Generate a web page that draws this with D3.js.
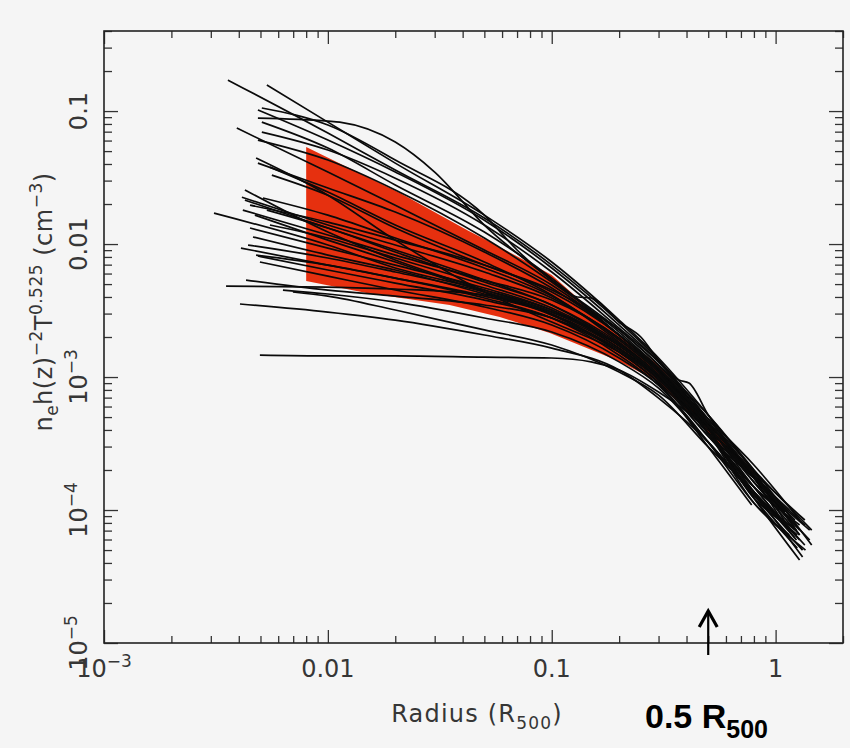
<!DOCTYPE html>
<html>
<head>
<meta charset="utf-8">
<script src="https://cdn.jsdelivr.net/npm/d3@7"></script>
<style>
  html, body { margin: 0; padding: 0; background: #f5f5f5; }
  svg { display: block; }
  .axis-text { font-family: "DejaVu Sans", "Liberation Sans", sans-serif; fill: #363636; }
</style>
</head>
<body>
<svg id="chart" width="850" height="748"></svg>
<script>
// Scaled gas density profiles n_e h(z)^-2 T^-0.525 versus radius in units of R500.
const radiusDomain = [0.001, 2];
const densityDomain = [1e-5, 0.4];

const xTickLabels = [[0.001, "10", "\u22123"], [0.01, "0.01", ""], [0.1, "0.1", ""], [1, "1", ""]];
const yTickLabels = [[1e-5, "10", "\u22125"], [1e-4, "10", "\u22124"], [1e-3, "10", "\u22123"], [0.01, "0.01", ""], [0.1, "0.1", ""]];

// Envelope of the reference model (shaded band)
const bandUpper = [[0.008, 0.0536], [0.021, 0.0242], [0.042, 0.0127], [0.0586, 0.0095], [0.1, 0.00585],
                   [0.2, 0.00207], [0.3, 0.00123], [0.5, 0.000459], [0.8, 0.000193]];
const bandLower = [[0.008, 0.00527], [0.0149, 0.00428], [0.035, 0.00348], [0.0586, 0.00283], [0.098, 0.00214],
                   [0.195, 0.00134], [0.29, 0.000949], [0.46, 0.000443], [0.8, 0.000174]];

// Individual cluster profiles: [radius (R500), scaled density (cm^-3)]
const profiles = [
  [[0.00358,0.171],[0.01,0.0683],[0.02,0.036],[0.05,0.0157],[0.1,0.00695],[0.2,0.00259],[0.3,0.00134],[0.5,0.000483],[0.8,0.000183],[1.15,0.0000841]],
  [[0.00534,0.157],[0.01,0.0826],[0.02,0.0406],[0.05,0.0165],[0.1,0.00733],[0.2,0.00268],[0.3,0.00139],[0.5,0.000518],[0.8,0.000193],[1.28,0.0000649]],
  [[0.00487,0.0885],[0.01,0.0841],[0.0113,0.0826],[0.02,0.0585],[0.03,0.0348],[0.05,0.0139],[0.1,0.00536],[0.2,0.00226],[0.3,0.00123],[0.5,0.000459],[0.8,0.000174],[1.10,0.0000771]],
  [[0.00487,0.1018],[0.01,0.0605],[0.02,0.0348],[0.05,0.0151],[0.1,0.00661],[0.2,0.00246],[0.3,0.0013],[0.5,0.000459],[0.8,0.000193],[1.35,0.0000841]],
  [[0.00507,0.1054],[0.01,0.0785],[0.02,0.0428],[0.05,0.0165],[0.07,0.00902],[0.1,0.00536],[0.13,0.0040],[0.15,0.00393],[0.2,0.00259],[0.25,0.0020],[0.3,0.00134],[0.37,0.000949],[0.41,0.000901],[0.5,0.000518],[0.8,0.000174],[1.42,0.0000595]],
  [[0.00392,0.0745],[0.01,0.0348],[0.02,0.0196],[0.05,0.00902],[0.1,0.00492],[0.2,0.00207],[0.3,0.00113],[0.5,0.000407],[0.8,0.000123],[1.28,0.0000421]],
  [[0.00507,0.0826],[0.01,0.0527],[0.02,0.0278],[0.05,0.0123],[0.1,0.00555],[0.2,0.00207],[0.3,0.00117],[0.5,0.000407],[0.8,0.000137],[1.22,0.0000707]],
  [[0.00487,0.0406],[0.01,0.0264],[0.02,0.0174],[0.05,0.00871],[0.1,0.00467],[0.2,0.00207],[0.3,0.00113],[0.5,0.000443],[0.8,0.000183],[1.35,0.0000771]],
  [[0.00551,0.0379],[0.01,0.0246],[0.02,0.0139],[0.05,0.00733],[0.1,0.00414],[0.2,0.00183],[0.3,0.00104],[0.5,0.000379],[0.8,0.000174],[1.15,0.0000841]],
  [[0.00562,0.033],[0.01,0.0233],[0.02,0.0132],[0.05,0.00695],[0.1,0.00451],[0.2,0.00226],[0.3,0.00123],[0.5,0.000518],[0.8,0.0002],[1.45,0.0000545]],
  [[0.00478,0.0443],[0.01,0.0233],[0.02,0.0107],[0.05,0.00436],[0.1,0.00259],[0.2,0.00154],[0.3,0.000983],[0.5,0.000379],[0.8,0.00013],[1.32,0.00005]],
  [[0.00413,0.0225],[0.01,0.0139],[0.02,0.00983],[0.05,0.00616],[0.1,0.00393],[0.2,0.00196],[0.3,0.00113],[0.5,0.000483],[0.8,0.000218],[1.28,0.0000841]],
  [[0.00426,0.0214],[0.01,0.0132],[0.02,0.00902],[0.05,0.00536],[0.1,0.00348],[0.2,0.00174],[0.3,0.00104],[0.5,0.000407],[0.8,0.000183],[1.22,0.0000732]],
  [[0.00513,0.0222],[0.01,0.0165],[0.02,0.0111],[0.05,0.00661],[0.1,0.00406],[0.2,0.0019],[0.3,0.00109],[0.5,0.000459],[0.8,0.000174],[1.42,0.0000707]],
  [[0.0031,0.0171],[0.01,0.00983],[0.02,0.00661],[0.05,0.00451],[0.1,0.00319],[0.2,0.00174],[0.3,0.000983],[0.5,0.000379],[0.8,0.000149],[1.04,0.0001]],
  [[0.00417,0.018],[0.01,0.0117],[0.02,0.00826],[0.05,0.00536],[0.1,0.00379],[0.2,0.00196],[0.3,0.00109],[0.5,0.000407],[0.8,0.000123],[1.04,0.0000841]],
  [[0.00534,0.018],[0.01,0.0132],[0.02,0.00871],[0.05,0.00518],[0.1,0.00348],[0.2,0.0018],[0.3,0.00104],[0.5,0.000428],[0.8,0.000162],[1.28,0.0000649]],
  [[0.00449,0.0132],[0.01,0.00933],[0.02,0.00695],[0.05,0.00467],[0.1,0.00319],[0.2,0.00165],[0.3,0.000983],[0.5,0.000379],[0.8,0.000123],[1.25,0.0000518]],
  [[0.00463,0.0113],[0.01,0.00826],[0.02,0.00638],[0.05,0.00421],[0.1,0.00298],[0.2,0.00154],[0.3,0.000901],[0.5,0.000298],[0.782,0.000109]],
  [[0.00409,0.00933],[0.01,0.00695],[0.02,0.00555],[0.05,0.00406],[0.1,0.00298],[0.2,0.00165],[0.3,0.000983],[0.5,0.000407],[0.8,0.000174],[1.15,0.0000917]],
  [[0.00487,0.00813],[0.01,0.00638],[0.02,0.00509],[0.05,0.00379],[0.1,0.00278],[0.2,0.00154],[0.3,0.000917],[0.5,0.000359],[0.8,0.000149],[1.28,0.0000771]],
  [[0.00497,0.00733],[0.01,0.00574],[0.02,0.00451],[0.05,0.00336],[0.1,0.00246],[0.2,0.00139],[0.3,0.000871],[0.5,0.000324],[0.8,0.000113],[1.36,0.00005]],
  [[0.00426,0.0255],[0.01,0.0123],[0.02,0.00759],[0.05,0.00451],[0.1,0.00308],[0.2,0.00171],[0.3,0.00102],[0.5,0.000379],[0.8,0.000149],[1.22,0.0000616]],
  [[0.00472,0.0165],[0.01,0.0107],[0.02,0.00733],[0.05,0.00436],[0.1,0.00292],[0.2,0.0016],[0.3,0.000983],[0.5,0.000407],[0.8,0.000183],[1.10,0.0000966]],
  [[0.00431,0.00536],[0.01,0.00451],[0.02,0.00406],[0.05,0.00348],[0.1,0.00278],[0.2,0.0016],[0.3,0.000949],[0.5,0.000379],[0.8,0.000137],[1.32,0.0000443]],
  [[0.00351,0.00483],[0.01,0.00475],[0.02,0.00459],[0.05,0.00414],[0.1,0.00308],[0.2,0.00174],[0.3,0.000983],[0.5,0.000359],[0.8,0.000174],[1.15,0.0001]],
  [[0.0063,0.00451],[0.01,0.00421],[0.02,0.00366],[0.05,0.00278],[0.1,0.00218],[0.2,0.0013],[0.3,0.000826],[0.5,0.000324],[0.8,0.00013],[1.24,0.0000707]],
  [[0.00698,0.00436],[0.01,0.00406],[0.02,0.00319],[0.05,0.00226],[0.1,0.00174],[0.2,0.00109],[0.3,0.000732],[0.5,0.000298],[0.8,0.000137],[1.28,0.0000595]],
  [[0.00405,0.00354],[0.01,0.00308],[0.02,0.00268],[0.05,0.00207],[0.1,0.00165],[0.2,0.00113],[0.3,0.000695],[0.5,0.000324],[0.8,0.00013],[1.25,0.0000649]],
  [[0.00497,0.00146],[0.01,0.00144],[0.02,0.00144],[0.05,0.00141],[0.1,0.00139],[0.15,0.0013],[0.2,0.00113],[0.3,0.000771],[0.5,0.000407],[0.8,0.000174],[1.22,0.0000841]],
  [[0.00487,0.0605],[0.01,0.0428],[0.02,0.0255],[0.05,0.0111],[0.1,0.00518],[0.2,0.00218],[0.3,0.00117],[0.5,0.000428],[0.8,0.000149],[1.35,0.0000545]],
  [[0.00507,0.0695],[0.01,0.0509],[0.02,0.0313],[0.05,0.0139],[0.1,0.00616],[0.2,0.00233],[0.3,0.0013],[0.5,0.000483],[0.8,0.0002],[1.45,0.0000707]],
  [[0.00449,0.0196],[0.01,0.0146],[0.02,0.0107],[0.05,0.00695],[0.1,0.00436],[0.2,0.00207],[0.3,0.00117],[0.5,0.000459],[0.8,0.000183],[1.15,0.0000732]],
  [[0.0044,0.00983],[0.01,0.00785],[0.02,0.00616],[0.05,0.00436],[0.1,0.00308],[0.2,0.00174],[0.3,0.00104],[0.5,0.000428],[0.8,0.000162],[1.28,0.0000707]],
  [[0.00551,0.0139],[0.01,0.0111],[0.02,0.00785],[0.05,0.00492],[0.1,0.0033],[0.2,0.00174],[0.3,0.00104],[0.5,0.000379],[0.8,0.000113],[1.15,0.0000649]],
  [[0.00478,0.00826],[0.01,0.00695],[0.02,0.00555],[0.05,0.00393],[0.1,0.00278],[0.2,0.00146],[0.3,0.000871],[0.5,0.000324],[0.8,0.000137],[1.24,0.0000595]]
];

const markerRadius = 0.5;

const svg = d3.select("#chart");
const plot = { left: 104, right: 843, top: 31, bottom: 643 };

const x = d3.scaleLog().domain(radiusDomain).range([plot.left, plot.right]);
const y = d3.scaleLog().domain(densityDomain).range([plot.bottom, plot.top]);

// shaded band
const bandPoints = bandUpper.concat(bandLower.slice().reverse());
svg.append("path")
  .attr("d", d3.line().x(d => x(d[0])).y(d => y(d[1]))(bandPoints) + "Z")
  .attr("fill", "#e6300f")
  .attr("stroke", "none");

// profiles
const lineGen = d3.line()
  .x(d => x(d[0]))
  .y(d => y(d[1]))
  .curve(d3.curveMonotoneX);

svg.append("g")
  .selectAll("path")
  .data(profiles)
  .join("path")
  .attr("d", lineGen)
  .attr("fill", "none")
  .attr("stroke", "#0a0a0a")
  .attr("stroke-width", 1.7)
  .attr("stroke-linejoin", "round");

// axes: ticks pointing into the frame on all four sides
const isDecade = v => Math.abs(Math.log10(v) - Math.round(Math.log10(v))) < 1e-9;
const xAll = x.ticks();
const yAll = y.ticks();
const xMajor = xAll.filter(isDecade), xMinor = xAll.filter(v => !isDecade(v));
const yMajor = yAll.filter(isDecade), yMinor = yAll.filter(v => !isDecade(v));

function addAxis(axisFn, scale, values, size, transform) {
  const g = svg.append("g")
    .attr("transform", transform)
    .call(axisFn(scale).tickValues(values).tickSize(size).tickFormat(""));
  g.select(".domain").remove();
  g.selectAll(".tick line").attr("stroke", "#333").attr("stroke-width", 1.3);
}
addAxis(d3.axisBottom, x, xMinor, -7, `translate(0,${plot.bottom})`);
addAxis(d3.axisBottom, x, xMajor, -13, `translate(0,${plot.bottom})`);
addAxis(d3.axisTop, x, xMinor, -7, `translate(0,${plot.top})`);
addAxis(d3.axisTop, x, xMajor, -13, `translate(0,${plot.top})`);
addAxis(d3.axisLeft, y, yMinor, -8, `translate(${plot.left},0)`);
addAxis(d3.axisLeft, y, yMajor, -14, `translate(${plot.left},0)`);
addAxis(d3.axisRight, y, yMinor, -8, `translate(${plot.right},0)`);
addAxis(d3.axisRight, y, yMajor, -14, `translate(${plot.right},0)`);

svg.append("rect")
  .attr("x", plot.left).attr("y", plot.top)
  .attr("width", plot.right - plot.left).attr("height", plot.bottom - plot.top)
  .attr("fill", "none").attr("stroke", "#222").attr("stroke-width", 1.6);

// tick labels
const labelSize = 24, supSize = 17;
function writeLabel(t, main, sup) {
  t.append("tspan").text(main);
  if (sup) t.append("tspan").attr("font-size", supSize).attr("dy", -10).text(sup);
}
xTickLabels.forEach(([v, main, sup]) => {
  const t = svg.append("text")
    .attr("class", "axis-text")
    .attr("x", x(v)).attr("y", 677)
    .attr("text-anchor", "middle")
    .attr("font-size", labelSize);
  writeLabel(t, main, sup);
});
yTickLabels.forEach(([v, main, sup]) => {
  const t = svg.append("text")
    .attr("class", "axis-text")
    .attr("transform", `translate(87,${y(v)}) rotate(-90)`)
    .attr("text-anchor", "middle")
    .attr("font-size", labelSize);
  writeLabel(t, main, sup);
});

// axis titles
const xt = svg.append("text")
  .attr("class", "axis-text")
  .attr("x", 477).attr("y", 722)
  .attr("text-anchor", "middle")
  .attr("font-size", labelSize)
  .attr("letter-spacing", 1.2);
xt.append("tspan").text("Radius (R");
xt.append("tspan").attr("font-size", supSize).attr("dy", 7).text("500");
xt.append("tspan").attr("dy", -7).text(")");

const yt = svg.append("text")
  .attr("class", "axis-text")
  .attr("transform", "translate(52,302) rotate(-90)")
  .attr("text-anchor", "middle")
  .attr("font-size", labelSize)
  .attr("letter-spacing", 0.5);
yt.append("tspan").text("n");
yt.append("tspan").attr("font-size", supSize).attr("dy", 6).text("e");
yt.append("tspan").attr("dy", -6).text("h(z)");
yt.append("tspan").attr("font-size", supSize).attr("dy", -10).text("\u22122");
yt.append("tspan").attr("dy", 10).text("T");
yt.append("tspan").attr("font-size", supSize).attr("dy", -10).text("0.525");
yt.append("tspan").attr("dy", 10).text("\u00a0(cm");
yt.append("tspan").attr("font-size", supSize).attr("dy", -10).text("\u22123");
yt.append("tspan").attr("dy", 10).text(")");

// marker arrow at 0.5 R500
const ax = x(markerRadius);
svg.append("line")
  .attr("x1", ax).attr("x2", ax).attr("y1", 655).attr("y2", 612)
  .attr("stroke", "#000").attr("stroke-width", 2.2);
svg.append("polyline")
  .attr("points", `${ax - 9},${627} ${ax},${611} ${ax + 9},${627}`)
  .attr("fill", "none").attr("stroke", "#000").attr("stroke-width", 3.2)
  .attr("stroke-linejoin", "miter");

const mt = svg.append("text")
  .attr("x", 645).attr("y", 728)
  .style("font-family", "'Liberation Sans', Arial, sans-serif")
  .style("font-weight", "bold")
  .style("font-size", "34px")
  .style("fill", "#000");
mt.append("tspan").text(markerRadius + " R");
mt.append("tspan").style("font-size", "25px").attr("dy", 10).text("500");
</script>
</body>
</html>
